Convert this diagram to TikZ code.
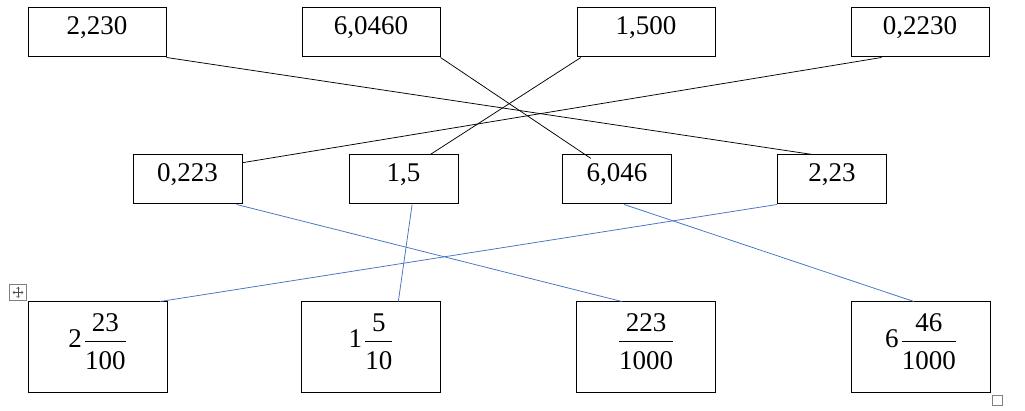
\documentclass[tikz,border=0pt]{standalone}
\usepackage{fontspec}
\setmainfont{Liberation Serif}
\usepackage{amsmath}
\usepackage{tikz}
\usetikzlibrary{shapes,arrows,positioning,calc}
\definecolor{lineblue}{HTML}{4472C4}

\begin{document}
\begin{tikzpicture}
            [
                x=1pt, y=-1pt,
                numbox/.style={rectangle, draw=black, line width=1pt, inner xsep=0pt, inner ysep=7pt, text height=20pt, text depth=15pt, font=\fontsize{27}{32}\selectfont},
                topbox/.style={numbox, minimum width=138pt},
                midbox/.style={numbox, minimum width=109pt},
                fracbox/.style={rectangle, draw=black, line width=1pt, inner sep=0pt, minimum width=139pt, text height=46pt, text depth=44pt, font=\fontsize{27}{32}\selectfont},
                blackline/.style={draw=black, line width=0.75pt},
                blueline/.style={draw=lineblue, line width=0.75pt},
            ]

            \useasboundingbox (0,0) rectangle (1025,411);

            %% TOP ROW
            \node[topbox] (t1) at(97,32.5) {2,230};
            \node[topbox] (t2) at(371,32.5) {6,0460};
            \node[topbox] (t3) at(646,32.5) {1,500};
            \node[topbox] (t4) at(920,32.5) {0,2230};

            %% MIDDLE ROW
            \node[midbox] (m1) at(187.5,179.5) {0,223};
            \node[midbox] (m2) at(403.5,179.5) {1,5};
            \node[midbox] (m3) at(617,179.5) {6,046};
            \node[midbox] (m4) at(832,179.5) {2,23};

            %% BOTTOM ROW
            \node[fracbox] (b1) at(97.5,347) {2\kern2pt$\dfrac{\mbox{23}}{\mbox{\raisebox{-4pt}{100}}}$};
            \node[fracbox] (b2) at(371,347) {1\kern2pt$\dfrac{\mbox{5}}{\mbox{\raisebox{-4pt}{10}}}$};
            \node[fracbox] (b3) at(646,347) {$\dfrac{\mbox{223}}{\mbox{\raisebox{-4pt}{1000}}}$};
            \node[fracbox] (b4) at(921,347) {6\kern2pt$\dfrac{\mbox{46}}{\mbox{\raisebox{-4pt}{1000}}}$};

            %% BLACK CONNECTORS
            \draw[blackline] (t1.south east) -- (m4.128);
            \draw[blackline, shorten >=-7pt] (t2.south east) -- (m3.142);
            \draw[blackline] (t3.201) -- (m2.43);
            \draw[blackline] (t4.213) -- (m1.17);

            %% BLUE CONNECTORS
            \draw[blueline] (m1.-27) -- (b3.118);
            \draw[blueline] (m2.-71) -- (b2.59);
            \draw[blueline] (m3.-74) -- (b4.99);
            \draw[blueline] (m4.south west) -- (b1.36);

            %% TABLE HANDLES
            \begin{scope}[gray]
                \draw[line width=0.6pt] (9.5,284.5) rectangle (26.5,300.5);
                \draw[black!70, line width=0.5pt] (13,292.5) -- (23,292.5);
                \draw[black!70, line width=0.5pt] (18,287.5) -- (18,297.5);
                \draw[black!70, line width=0.5pt] (14.5,291) -- (13,292.5) -- (14.5,294);
                \draw[black!70, line width=0.5pt] (21.5,291) -- (23,292.5) -- (21.5,294);
                \draw[black!70, line width=0.5pt] (16.5,289) -- (18,287.5) -- (19.5,289);
                \draw[black!70, line width=0.5pt] (16.5,296) -- (18,297.5) -- (19.5,296);
                \draw[line width=0.6pt] (992.5,395.5) rectangle (1002.5,405.5);
            \end{scope}

        \end{tikzpicture}
\end{document}
